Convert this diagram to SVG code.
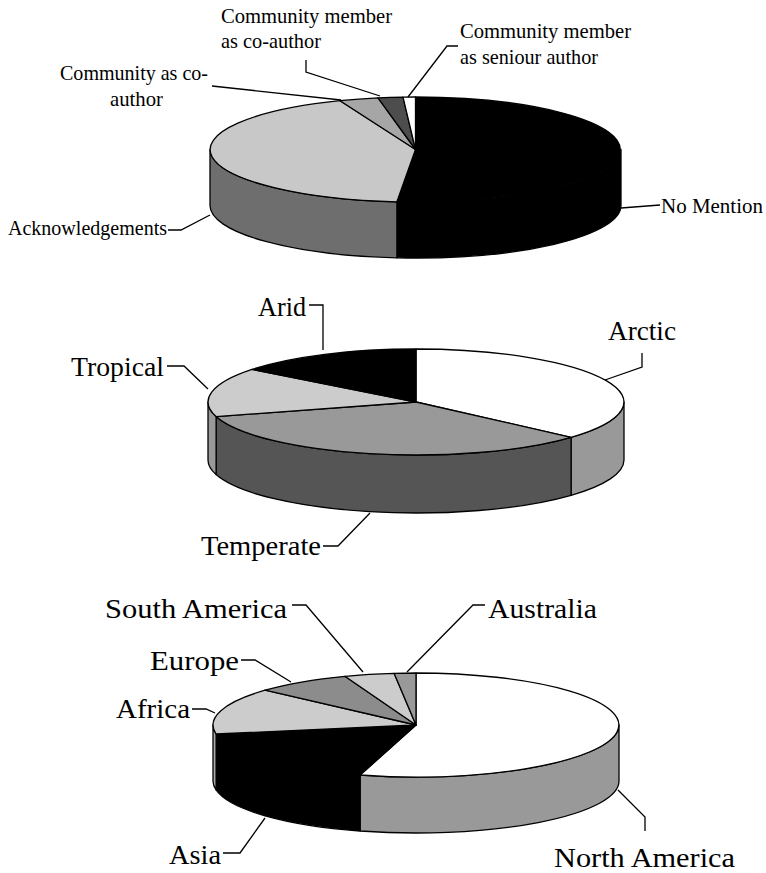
<svg xmlns="http://www.w3.org/2000/svg" width="766" height="873" viewBox="0 0 766 873">
<style>
.s{stroke:#000;stroke-width:1.3;stroke-linejoin:round}
.ld{fill:none;stroke:#000;stroke-width:1.3}
.t1{font-family:"Liberation Serif","Times New Roman",serif;font-size:21.5px;fill:#000}
.t2{font-family:"Liberation Serif","Times New Roman",serif;font-size:27px;fill:#000}
.t3{font-family:"Liberation Serif","Times New Roman",serif;font-size:28px;fill:#000}
</style>
<rect width="766" height="873" fill="#fff"/>
<g id="pie-authorship">
<path class="s" fill="#000" d="M621,149.5 A205.5,52.5 0 0,1 396.9,201.8 L396.9,257.8 A205.5,52.5 0 0,0 621,205.5 Z"/>
<path class="s" fill="#6e6e6e" d="M396.9,201.8 A205.5,52.5 0 0,1 210,149.5 L210,205.5 A205.5,52.5 0 0,0 396.9,257.8 Z"/>
<path class="s" fill="#000" d="M415.5,149.5 L415.5,97 A205.5,52.5 0 1,1 396.9,201.8 Z"/>
<path class="s" fill="#c8c8c8" d="M415.5,149.5 L396.9,201.8 A205.5,52.5 0 0,1 340,100.7 Z"/>
<path class="s" fill="#a6a6a6" d="M415.5,149.5 L340,100.7 A205.5,52.5 0 0,1 378,97.9 Z"/>
<path class="s" fill="#4d4d4d" d="M415.5,149.5 L378,97.9 A205.5,52.5 0 0,1 403,97.1 Z"/>
<path class="s" fill="#fff" d="M415.5,149.5 L403,97.1 A205.5,52.5 0 0,1 415.5,97 Z"/>
</g>
<g id="pie-climate">
<path class="s" fill="#999" d="M624,402 A208,53 0 0,1 571.1,437.3 L571.1,495.3 A208,53 0 0,0 624,460 Z"/>
<path class="s" fill="#555" d="M571.1,437.3 A208,53 0 0,1 216.1,416.6 L216.1,474.6 A208,53 0 0,0 571.1,495.3 Z"/>
<path class="s" fill="#999" d="M216.1,416.6 A208,53 0 0,1 208,402 L208,460 A208,53 0 0,0 216.1,474.6 Z"/>
<path class="s" fill="#fff" d="M416,402 L416,349 A208,53 0 0,1 571.1,437.3 Z"/>
<path class="s" fill="#999" d="M416,402 L571.1,437.3 A208,53 0 0,1 216.1,416.6 Z"/>
<path class="s" fill="#ccc" d="M416,402 L216.1,416.6 A208,53 0 0,1 252.1,369.4 Z"/>
<path class="s" fill="#000" d="M416,402 L252.1,369.4 A208,53 0 0,1 416,349 Z"/>
</g>
<g id="pie-continent">
<path class="s" fill="#999" d="M619,725 A203,52 0 0,1 360.1,775 L360.1,831 A203,52 0 0,0 619,781 Z"/>
<path class="s" fill="#000" d="M360.1,775 A203,52 0 0,1 216.1,734 L216.1,790 A203,52 0 0,0 360.1,831 Z"/>
<path class="s" fill="#aaa" d="M216.1,734 A203,52 0 0,1 213,725 L213,781 A203,52 0 0,0 216.1,790 Z"/>
<path class="s" fill="#fff" d="M416,725 L416,673 A203,52 0 1,1 360.1,775 Z"/>
<path class="s" fill="#000" d="M416,725 L360.1,775 A203,52 0 0,1 216.1,734 Z"/>
<path class="s" fill="#ccc" d="M416,725 L216.1,734 A203,52 0 0,1 265.1,690.2 Z"/>
<path class="s" fill="#8c8c8c" d="M416,725 L265.1,690.2 A203,52 0 0,1 344.9,676.3 Z"/>
<path class="s" fill="#ccc" d="M416,725 L344.9,676.3 A203,52 0 0,1 394.1,673.3 Z"/>
<path class="s" fill="#999" d="M416,725 L394.1,673.3 A203,52 0 0,1 416,673 Z"/>
</g>
<g id="connectors">
<path class="ld" d="M306,60 L306,72 L380,96"/>
<path class="ld" d="M212,86 L341,100"/>
<path class="ld" d="M458,46 L447,46 L408,97"/>
<path class="ld" d="M621,208 L660,205"/>
<path class="ld" d="M168,230 L181,230 L210,215"/>
<path class="ld" d="M309,305 L323,305 L323,350"/>
<path class="ld" d="M642,353 L642,367 L605,380"/>
<path class="ld" d="M167,366 L184,366 L208,389"/>
<path class="ld" d="M323,546 L338,546 L370,513"/>
<path class="ld" d="M292,605 L306,605 L363,672"/>
<path class="ld" d="M485,605 L473,605 L407,672"/>
<path class="ld" d="M241,660 L255,660 L291,682"/>
<path class="ld" d="M192,709 L206,709 L215,713"/>
<path class="ld" d="M223,853 L240,853 L265,818"/>
<path class="ld" d="M618,790 L645,817 L645,831"/>
</g>
<g id="labels">
<text class="t1" x="221" y="23" textLength="171" lengthAdjust="spacingAndGlyphs">Community member</text>
<text class="t1" x="221" y="48" textLength="100" lengthAdjust="spacingAndGlyphs">as co-author</text>
<text class="t1" x="60" y="80" textLength="148" lengthAdjust="spacingAndGlyphs">Community as co-</text>
<text class="t1" x="110" y="106" textLength="53" lengthAdjust="spacingAndGlyphs">author</text>
<text class="t1" x="460" y="38" textLength="171" lengthAdjust="spacingAndGlyphs">Community member</text>
<text class="t1" x="460" y="64" textLength="138" lengthAdjust="spacingAndGlyphs">as seniour author</text>
<text class="t1" x="661" y="213" textLength="102" lengthAdjust="spacingAndGlyphs">No Mention</text>
<text class="t1" x="8" y="235" textLength="159" lengthAdjust="spacingAndGlyphs">Acknowledgements</text>
<text class="t2" x="258" y="316" textLength="48" lengthAdjust="spacingAndGlyphs">Arid</text>
<text class="t2" x="608" y="340" textLength="68" lengthAdjust="spacingAndGlyphs">Arctic</text>
<text class="t2" x="71" y="376" textLength="93" lengthAdjust="spacingAndGlyphs">Tropical</text>
<text class="t2" x="201" y="555" textLength="120" lengthAdjust="spacingAndGlyphs">Temperate</text>
<text class="t3" x="105" y="618" textLength="182" lengthAdjust="spacingAndGlyphs">South America</text>
<text class="t3" x="488" y="618" textLength="109" lengthAdjust="spacingAndGlyphs">Australia</text>
<text class="t3" x="150" y="670" textLength="89" lengthAdjust="spacingAndGlyphs">Europe</text>
<text class="t3" x="116" y="718" textLength="74" lengthAdjust="spacingAndGlyphs">Africa</text>
<text class="t3" x="169" y="864" textLength="52" lengthAdjust="spacingAndGlyphs">Asia</text>
<text class="t3" x="554" y="867" textLength="181" lengthAdjust="spacingAndGlyphs">North America</text>
</g>
</svg>
